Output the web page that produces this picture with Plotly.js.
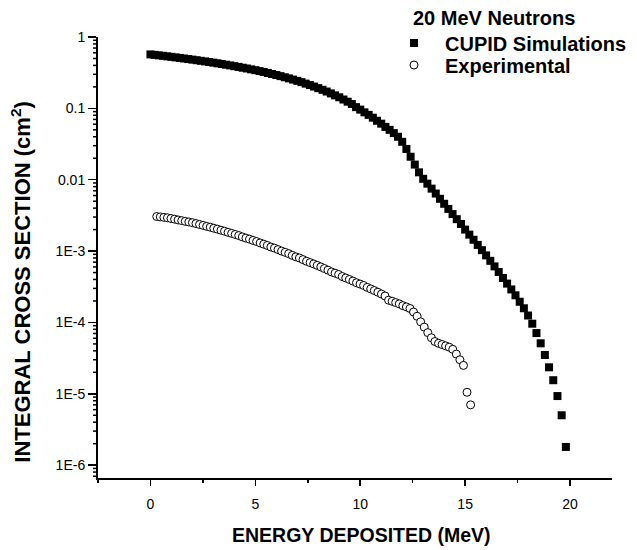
<!DOCTYPE html>
<html>
<head>
<meta charset="utf-8">
<script src="https://cdn.plot.ly/plotly-3.0.1.min.js"></script>
<style>
  html, body { margin: 0; padding: 0; background: #ffffff; }
  #chart { width: 637px; height: 550px; }
</style>
</head>
<body>
<div id="chart"></div>
<script>
// Simulated integral cross section (CUPID), 0.2 MeV bins
const simEnergy = [
  0.0, 0.2, 0.4, 0.6, 0.8, 1.0, 1.2, 1.4, 1.6, 1.8,
  2.0, 2.2, 2.4, 2.6, 2.8, 3.0, 3.2, 3.4, 3.6, 3.8,
  4.0, 4.2, 4.4, 4.6, 4.8, 5.0, 5.2, 5.4, 5.6, 5.8,
  6.0, 6.2, 6.4, 6.6, 6.8, 7.0, 7.2, 7.4, 7.6, 7.8,
  8.0, 8.2, 8.4, 8.6, 8.8, 9.0, 9.2, 9.4, 9.6, 9.8,
  10.0, 10.2, 10.4, 10.6, 10.8, 11.0, 11.2, 11.4, 11.6, 11.8,
  12.0, 12.2, 12.4, 12.6, 12.8, 13.0, 13.2, 13.4, 13.6, 13.8,
  14.0, 14.2, 14.4, 14.6, 14.8, 15.0, 15.2, 15.4, 15.6, 15.8,
  16.0, 16.2, 16.4, 16.6, 16.8, 17.0, 17.2, 17.4, 17.6, 17.8,
  18.0, 18.2, 18.4, 18.6, 18.8, 19.0, 19.2, 19.4, 19.6, 19.8
];
const simCross = [
  0.570, 0.562, 0.553, 0.545, 0.536, 0.527, 0.518, 0.509, 0.500, 0.491,
  0.482, 0.473, 0.464, 0.455, 0.446, 0.437, 0.428, 0.418, 0.409, 0.400,
  0.390, 0.381, 0.371, 0.362, 0.352, 0.343, 0.333, 0.323, 0.313, 0.303,
  0.293, 0.283, 0.273, 0.263, 0.253, 0.243, 0.233, 0.222, 0.212, 0.202,
  0.192, 0.182, 0.172, 0.162, 0.152, 0.143, 0.133, 0.124, 0.115, 0.104,
  0.096, 0.088, 0.081, 0.074, 0.067, 0.061, 0.055, 0.050, 0.045, 0.040,
  0.034, 0.027, 0.021, 0.0163, 0.0127, 0.0103, 0.0088, 0.0075, 0.0064, 0.0054,
  0.0046, 0.0039, 0.0033, 0.0028, 0.0024, 0.0020, 0.0017, 0.00144, 0.00122, 0.00103,
  0.00087, 0.00073, 0.00061, 0.00051, 0.00042, 0.00035, 0.00029, 0.00024, 0.000195, 0.000158,
  0.000125, 0.000096, 0.000071, 0.000051, 0.000035, 0.0000235, 0.0000155, 0.0000093, 0.0000050, 0.0000018
];

// Measured integral cross section
const expEnergy = [
  0.30, 0.47, 0.64, 0.81, 0.98, 1.15, 1.32, 1.49, 1.66, 1.83,
  2.00, 2.17, 2.34, 2.51, 2.68, 2.85, 3.02, 3.19, 3.36, 3.53,
  3.70, 3.87, 4.04, 4.21, 4.38, 4.55, 4.72, 4.89, 5.06, 5.23,
  5.40, 5.57, 5.74, 5.91, 6.08, 6.25, 6.42, 6.59, 6.76, 6.93,
  7.10, 7.27, 7.44, 7.61, 7.78, 7.95, 8.12, 8.29, 8.46, 8.63,
  8.80, 8.97, 9.14, 9.31, 9.48, 9.65, 9.82, 9.99, 10.16, 10.33,
  10.50, 10.67, 10.84, 11.01, 11.18, 11.35, 11.52, 11.69, 11.86, 12.03,
  12.20, 12.37, 12.54, 12.71, 12.88, 13.05, 13.22, 13.39, 13.56, 13.73,
  13.90, 14.07, 14.24, 14.41, 14.58, 14.75, 14.92, 15.09, 15.26
];
const expCross = [
  3.05e-3, 3.01e-3, 2.97e-3, 2.93e-3, 2.86e-3, 2.80e-3, 2.73e-3, 2.67e-3, 2.61e-3, 2.56e-3,
  2.50e-3, 2.43e-3, 2.36e-3, 2.29e-3, 2.22e-3, 2.16e-3, 2.09e-3, 2.03e-3, 1.96e-3, 1.90e-3,
  1.83e-3, 1.77e-3, 1.71e-3, 1.65e-3, 1.58e-3, 1.52e-3, 1.47e-3, 1.41e-3, 1.36e-3, 1.30e-3,
  1.25e-3, 1.20e-3, 1.14e-3, 1.10e-3, 1.05e-3, 1.00e-3, 9.6e-4, 9.2e-4, 8.7e-4, 8.3e-4,
  8.0e-4, 7.6e-4, 7.2e-4, 6.9e-4, 6.6e-4, 6.3e-4, 6.0e-4, 5.7e-4, 5.4e-4, 5.1e-4,
  4.9e-4, 4.7e-4, 4.4e-4, 4.2e-4, 4.0e-4, 3.8e-4, 3.6e-4, 3.45e-4, 3.3e-4, 3.1e-4,
  2.95e-4, 2.8e-4, 2.65e-4, 2.5e-4, 2.35e-4, 2.05e-4, 1.98e-4, 1.9e-4, 1.82e-4, 1.72e-4,
  1.65e-4, 1.57e-4, 1.40e-4, 1.22e-4, 1.02e-4, 8.6e-5, 7.2e-5, 6.1e-5, 5.4e-5, 5.1e-5,
  4.9e-5, 4.7e-5, 4.5e-5, 4.2e-5, 3.6e-5, 3.0e-5, 2.5e-5, 1.05e-5, 7.0e-6
];

// Decade ticks on the cross-section axis
const yTickVals = [1, 0.1, 0.01, 1e-3, 1e-4, 1e-5, 1e-6];
const yTickText = ['1', '0.1', '0.01', '1E-3', '1E-4', '1E-5', '1E-6'];
const xTickVals = [0, 5, 10, 15, 20];

const FONT = 'Liberation Sans, Arial, Helvetica, sans-serif';
const Y_RANGE = [-6.18, 0];

// sub-decade tick marks (2..9 within each decade) drawn as short lines left of the axis
const minorTickShapes = [];
for (let d = -7; d <= 0; d++) {
  for (let k = 2; k <= 9; k++) {
    const v = k * Math.pow(10, d);
    const lv = Math.log10(v);
    if (lv < Y_RANGE[0] || lv > Y_RANGE[1]) continue;
    minorTickShapes.push({
      type: 'line', xref: 'paper', yref: 'y',
      x0: -5 / 514, x1: 0, y0: v, y1: v,
      line: { color: '#000000', width: 1.5 }, layer: 'above'
    });
  }
}

const traces = [
  {
    x: simEnergy, y: simCross,
    name: '<b>CUPID Simulations</b>',
    type: 'scatter', mode: 'markers', legend: 'legend',
    marker: { symbol: 'square', size: 8, color: '#000000', line: { width: 0 } }
  },
  {
    x: expEnergy, y: expCross,
    name: '<b>Experimental</b>',
    type: 'scatter', mode: 'markers', legend: 'legend2',
    marker: { symbol: 'circle', size: 8, color: '#ffffff', line: { color: '#000000', width: 1 } }
  }
];

const legendCommon = {
  xanchor: 'left', yanchor: 'middle',
  bgcolor: 'rgba(0,0,0,0)', borderwidth: 0,
  itemwidth: 52,
  font: { family: FONT, size: 20, color: '#000000' }
};

const layout = {
  width: 637, height: 550,
  paper_bgcolor: '#ffffff', plot_bgcolor: '#ffffff',
  margin: { l: 98, r: 25, t: 37, b: 72, autoexpand: false },
  font: { family: FONT, color: '#000000', size: 14 },
  showlegend: true,
  legend: Object.assign({ x: 0.5545, y: 0.9864 }, legendCommon),
  legend2: Object.assign({ x: 0.5545, y: 0.9365 }, legendCommon),
  shapes: minorTickShapes,
  annotations: [
    {
      text: '<b>20 MeV Neutrons</b>',
      xref: 'paper', yref: 'paper', x: 0.609, y: 1.043,
      xanchor: 'left', yanchor: 'middle', showarrow: false,
      font: { family: FONT, size: 20, color: '#000000' }
    },
    {
      text: '<b>ENERGY DEPOSITED (MeV)</b>',
      xref: 'paper', yref: 'paper', x: 0.512, y: -0.129,
      xanchor: 'center', yanchor: 'middle', showarrow: false,
      font: { family: FONT, size: 19.5, color: '#000000' }
    },
    {
      text: '<b>INTEGRAL CROSS SECTION (cm<sup>2</sup>)</b>',
      xref: 'paper', yref: 'paper', x: -0.15, y: 0.445,
      xanchor: 'center', yanchor: 'middle', showarrow: false, textangle: -90,
      font: { family: FONT, size: 22, color: '#000000' }
    }
  ],
  xaxis: {
    range: [-2.5, 22],
    tickmode: 'array', tickvals: xTickVals,
    ticks: 'outside', ticklen: 6, tickwidth: 1.5, tickcolor: '#000000',
    minor: { ticks: 'outside', ticklen: 3, tickwidth: 1.5, tickcolor: '#000000', dtick: 2.5, tick0: 0 },
    showline: true, linecolor: '#000000', linewidth: 2,
    showgrid: false, zeroline: false,
    ticklabelstandoff: 6,
    tickfont: { family: FONT, size: 14 }
  },
  yaxis: {
    type: 'log', range: Y_RANGE,
    tickmode: 'array', tickvals: yTickVals, ticktext: yTickText,
    ticks: 'outside', ticklen: 8, tickwidth: 1.5, tickcolor: '#000000',
    showline: true, linecolor: '#000000', linewidth: 2,
    showgrid: false, zeroline: false,
    tickfont: { family: FONT, size: 14 }
  }
};

Plotly.newPlot('chart', traces, layout, { displayModeBar: false, staticPlot: true });
</script>
</body>
</html>
